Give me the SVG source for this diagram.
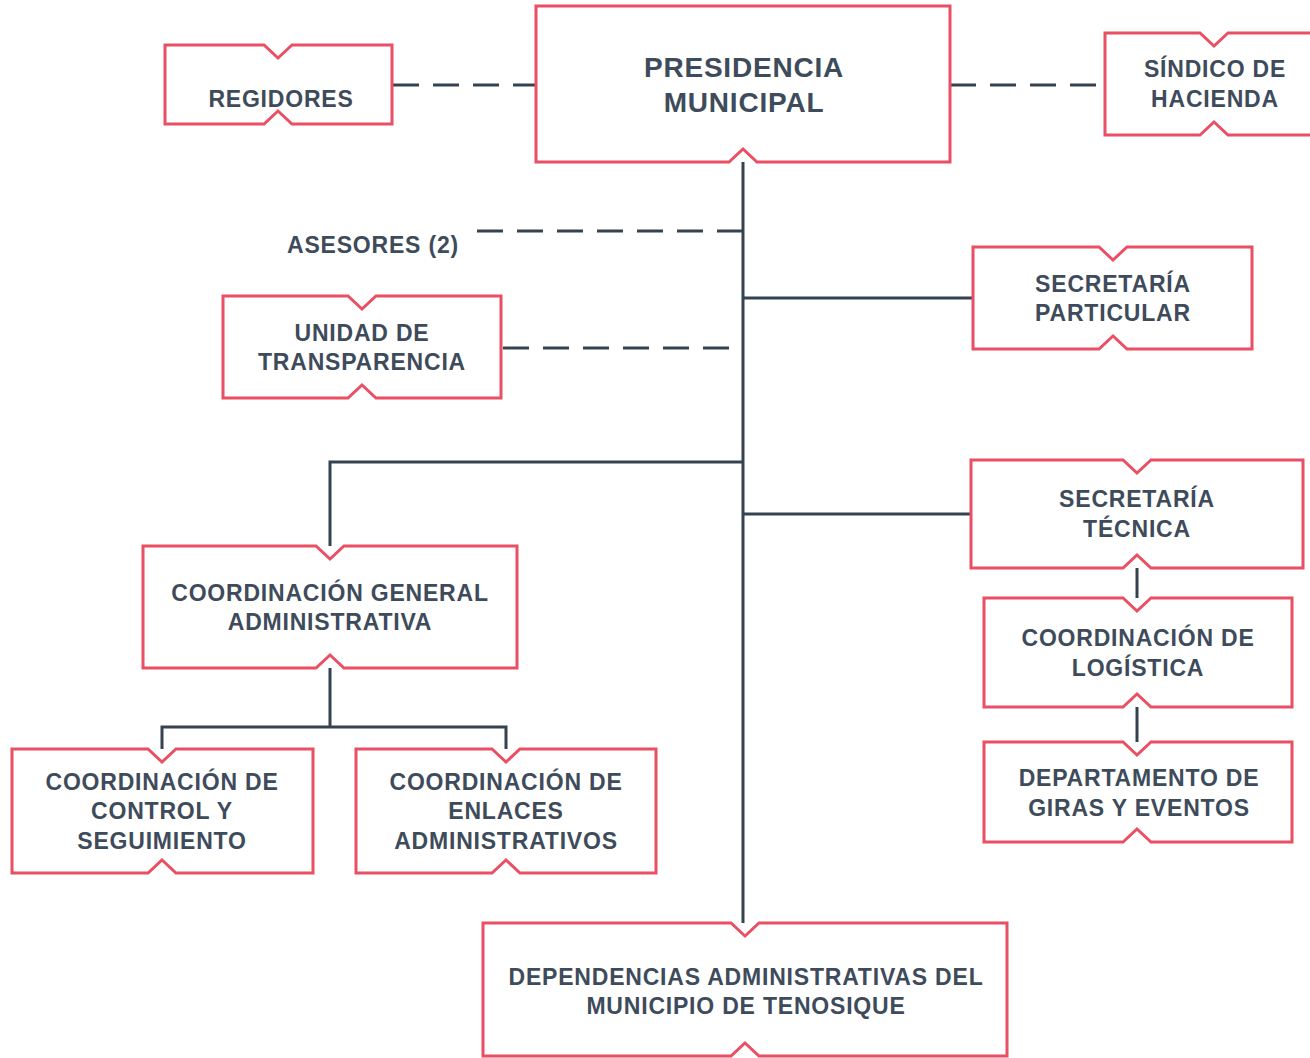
<svg xmlns="http://www.w3.org/2000/svg" width="1310" height="1058" viewBox="0 0 1310 1058">
<style>
.box{fill:#fff;stroke:#ea4f63;stroke-width:3;stroke-linejoin:miter}
.ln{fill:none;stroke:#34434f;stroke-width:3}
.dash{fill:none;stroke:#34434f;stroke-width:3;stroke-dasharray:26 14}
text{font-family:"Liberation Sans",Arial,sans-serif;font-weight:bold;font-size:23px;fill:#3e4b5b;text-anchor:middle;letter-spacing:0.8px}
.big{font-size:28px}
</style>
<rect width="1310" height="1058" fill="#fff"/>
<g id="connectors">
<path class="dash" d="M393 85 H536"/>
<path class="dash" d="M950 85 H1105"/>
<path class="ln" d="M743 162 V923"/>
<path class="dash" d="M743 231 H475"/>
<path class="ln" d="M743 298 H973"/>
<path class="dash" d="M503 348 H743"/>
<path class="ln" d="M743 462 H330 V546"/>
<path class="ln" d="M743 514 H971"/>
<path class="ln" d="M1137 568 V598"/>
<path class="ln" d="M1137 707 V742"/>
<path class="ln" d="M330 668 V727 M162 749 V727 H506 V749"/>
</g>
<g id="regidores"><path class="box" d="M165 45 H264 L278 58 L292 45 H392 V124 H292 L278 111 L264 124 H165 Z"/><text x="281" y="107">REGIDORES</text></g>
<g id="presidencia"><path class="box" d="M536 6 H950 V162 H757 L743 149 L729 162 H536 Z"/><text class="big" x="744" y="77">PRESIDENCIA</text><text class="big" x="744" y="112">MUNICIPAL</text></g>
<g id="sindico"><path class="box" d="M1105 33 H1200 L1214 46 L1228 33 H1312 V135 H1228 L1214 122 L1200 135 H1105 Z"/><text x="1215" y="77">SÍNDICO DE</text><text x="1215" y="107">HACIENDA</text></g>
<g id="asesores"><text x="373" y="253">ASESORES (2)</text></g>
<g id="sec-particular"><path class="box" d="M973 247 H1099 L1113 260 L1127 247 H1252 V349 H1127 L1113 336 L1099 349 H973 Z"/><text x="1113" y="292">SECRETARÍA</text><text x="1113" y="321">PARTICULAR</text></g>
<g id="transparencia"><path class="box" d="M223 296 H348 L362 309 L376 296 H501 V398 H376 L362 385 L348 398 H223 Z"/><text x="362" y="341">UNIDAD DE</text><text x="362" y="370">TRANSPARENCIA</text></g>
<g id="sec-tecnica"><path class="box" d="M971 460 H1123 L1137 473 L1151 460 H1303 V568 H1151 L1137 555 L1123 568 H971 Z"/><text x="1137" y="507">SECRETARÍA</text><text x="1137" y="537">TÉCNICA</text></g>
<g id="logistica"><path class="box" d="M984 598 H1123 L1137 611 L1151 598 H1292 V707 H1151 L1137 694 L1123 707 H984 Z"/><text x="1138" y="646">COORDINACIÓN DE</text><text x="1138" y="676">LOGÍSTICA</text></g>
<g id="giras"><path class="box" d="M984 742 H1123 L1137 755 L1151 742 H1292 V842 H1151 L1137 829 L1123 842 H984 Z"/><text x="1139" y="786">DEPARTAMENTO DE</text><text x="1139" y="816">GIRAS Y EVENTOS</text></g>
<g id="coord-general"><path class="box" d="M143 546 H316 L330 559 L344 546 H517 V668 H344 L330 655 L316 668 H143 Z"/><text x="330" y="601">COORDINACIÓN GENERAL</text><text x="330" y="630">ADMINISTRATIVA</text></g>
<g id="control"><path class="box" d="M12 749 H148 L162 762 L176 749 H313 V873 H176 L162 860 L148 873 H12 Z"/><text x="162" y="790">COORDINACIÓN DE</text><text x="162" y="819">CONTROL Y</text><text x="162" y="849">SEGUIMIENTO</text></g>
<g id="enlaces"><path class="box" d="M356 749 H492 L506 762 L520 749 H656 V873 H520 L506 860 L492 873 H356 Z"/><text x="506" y="790">COORDINACIÓN DE</text><text x="506" y="819">ENLACES</text><text x="506" y="849">ADMINISTRATIVOS</text></g>
<g id="dependencias"><path class="box" d="M483 923 H731 L745 936 L759 923 H1007 V1056 H759 L745 1043 L731 1056 H483 Z"/><text x="746" y="985">DEPENDENCIAS ADMINISTRATIVAS DEL</text><text x="746" y="1014">MUNICIPIO DE TENOSIQUE</text></g>
</svg>
